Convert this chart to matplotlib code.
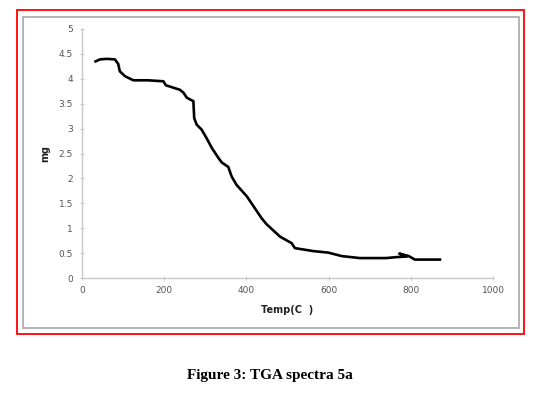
import matplotlib.pyplot as plt
from matplotlib.patches import Rectangle

# TGA curve
temp = [33, 44, 60, 80, 88, 92, 105, 125, 160, 198, 204, 238, 247, 255, 271,
        273, 279, 291, 303, 316, 332, 340, 356, 364, 376, 401, 437, 449, 482, 510, 518,
        563, 599, 632, 676, 740, 766, 790, 772, 795, 810, 840, 871]
mass = [4.35, 4.39, 4.40, 4.39, 4.30, 4.15, 4.05, 3.97, 3.97, 3.95, 3.87, 3.78, 3.72, 3.62, 3.55,
        3.21, 3.08, 2.98, 2.81, 2.61, 2.41, 2.32, 2.23, 2.04, 1.87, 1.64, 1.20, 1.08, 0.83, 0.70, 0.60,
        0.54, 0.51, 0.44, 0.40, 0.40, 0.42, 0.43, 0.49, 0.44, 0.37, 0.37, 0.37]

x_ticks = [0, 200, 400, 600, 800, 1000]
y_ticks = [0, 0.5, 1, 1.5, 2, 2.5, 3, 3.5, 4, 4.5, 5]
y_labels = ['0', '0.5', '1', '1.5', '2', '2.5', '3', '3.5', '4', '4.5', '5']

W, H = 556, 395
fig = plt.figure(figsize=(W / 100, H / 100), dpi=100)


def px(x0, y0, x1, y1):
    # pixel box -> figure fraction [left, bottom, width, height]
    return [x0 / W, 1 - y1 / H, (x1 - x0) / W, (y1 - y0) / H]


# red outer border and grey chart frame
r = px(17, 10, 524, 334)
fig.patches.append(Rectangle((r[0], r[1]), r[2], r[3], transform=fig.transFigure,
                             fill=False, edgecolor='red', linewidth=1.3))
g = px(23, 17, 519, 328)
fig.patches.append(Rectangle((g[0], g[1]), g[2], g[3], transform=fig.transFigure,
                             fill=False, edgecolor='#b4b4b4', linewidth=1.4))

ax = fig.add_axes(px(82, 29, 493, 278))
ax.plot(temp, mass, color='black', linewidth=1.9, solid_joinstyle='round')

ax.set_xlim(0, 1000)
ax.set_ylim(0, 5)
ax.set_xticks(x_ticks)
ax.set_yticks(y_ticks)
ax.set_yticklabels(y_labels)

for s in ['top', 'right']:
    ax.spines[s].set_visible(False)
for s in ['left', 'bottom']:
    ax.spines[s].set_color('#c8c8c8')
    ax.spines[s].set_linewidth(1.0)

ax.tick_params(axis='both', colors='#c8c8c8', labelcolor='#555555',
               labelsize=6.5, length=3, direction='inout', width=0.8)
ax.tick_params(axis='x', pad=4)
ax.tick_params(axis='y', pad=5)

fig.text(45 / W, 1 - 153 / H, 'mg', rotation=90, ha='center', va='center',
         fontsize=7, fontweight='bold', color='#222222')
fig.text(287 / W, 1 - 310 / H, 'Temp(C  )', ha='center', va='center',
         fontsize=7, fontweight='bold', color='#222222')

fig.text(270 / W, 1 - 375 / H, 'Figure 3: TGA spectra 5a', ha='center', va='center',
         fontsize=11, fontweight='bold', family='Liberation Serif')

fig.savefig('out.png', dpi=100)
